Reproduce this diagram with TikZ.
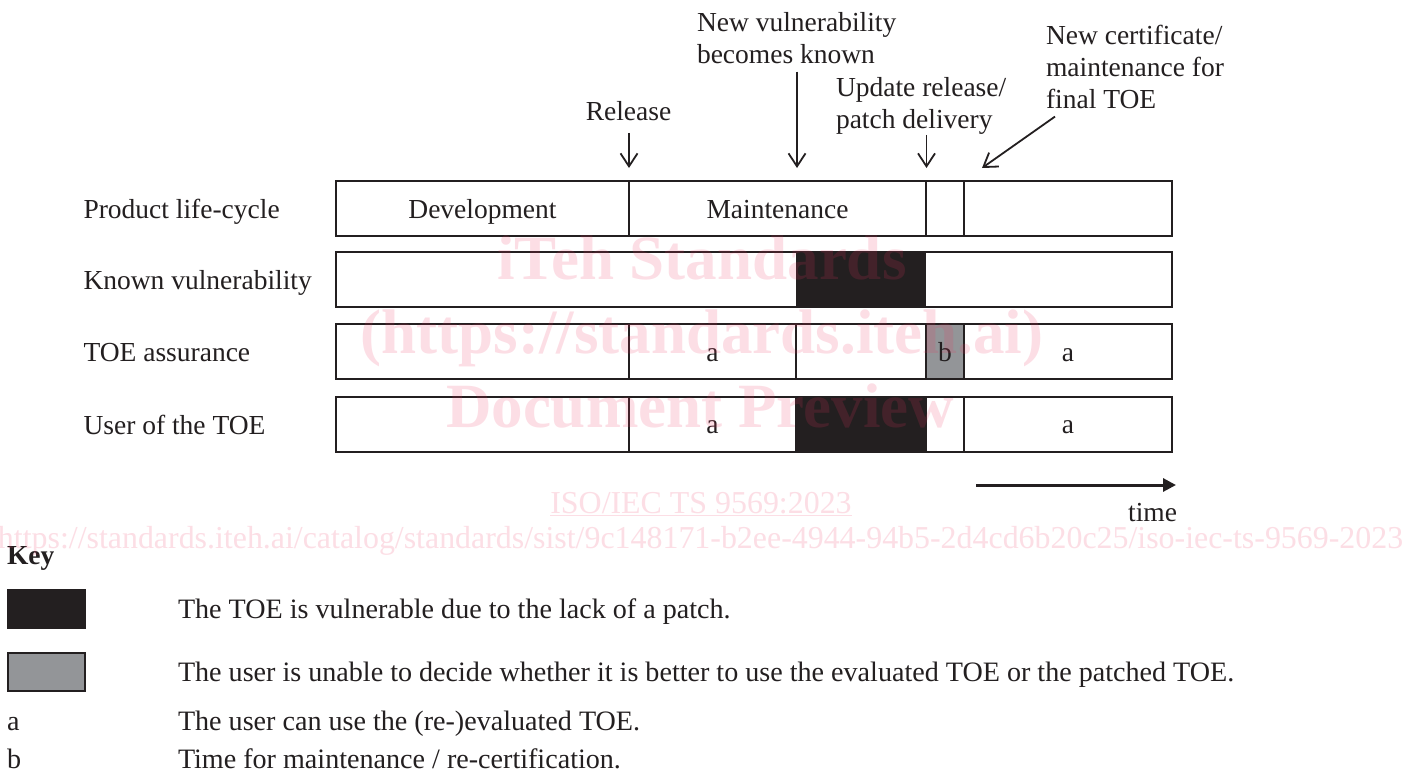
\documentclass[tikz,border=0pt]{standalone}
\usepackage{fontspec}
\setmainfont{Liberation Serif}
\usetikzlibrary{arrows.meta,calc}
\definecolor{ink}{HTML}{231F20}
\definecolor{midgray}{HTML}{939598}
\definecolor{wmred}{RGB}{240,50,95}

\begin{document}
\begin{tikzpicture}[x=1pt,y=-1pt,
  every node/.style={inner sep=0pt, outer sep=0pt},
  txt/.style={font=\fontsize{27.5pt}{31.7pt}\selectfont, text=ink},
  keytxt/.style={font=\fontsize{28.1pt}{32pt}\selectfont, text=ink},
  cell/.style={txt, draw=ink, line width=2pt, minimum height=55pt, fill=white,
               text height=25pt, text depth=6pt},
  blk/.style={fill=ink, minimum height=55pt},
  ptr/.style={draw=ink, line width=1.8pt, -{Straight Barb[length=13pt,width=17pt]}},
  wmark/.style={text=wmred, opacity=0.16, font=\fontsize{63pt}{70pt}\selectfont\bfseries},
  wsmall/.style={text=wmred, opacity=0.16, font=\fontsize{31.9pt}{36pt}\selectfont},
]
\useasboundingbox[fill=white] (0,0) rectangle (1421,776);

% row headings
\node[txt, anchor=base west] (l1) at (83.5,218.5) {Product life-cycle};
\node[txt, anchor=base west] (l2) at (83.5,289.5) {Known vulnerability};
\node[txt, anchor=base west] (l3) at (83.5,361.5) {TOE assurance};
\node[txt, anchor=base west] (l4) at (83.5,434) {User of the TOE};

% row 1: product life-cycle
\node[cell, minimum width=293pt] (dev) at (482.5,208.5) {Development};
\node[cell, minimum width=297pt] (mnt) at (777.5,208.5) {Maintenance};
\node[cell, minimum width=38pt]  (upd) at (945,208.5) {};
\node[cell, minimum width=208pt] (fin) at (1068,208.5) {};

% row 2: known vulnerability
\node[cell, minimum width=836pt] (kv) at (754,279.5) {};
\node[blk, minimum width=130pt] (kvb) at (861,279.5) {};

% row 3: TOE assurance
\node[cell, minimum width=293pt] (as1) at (482.5,351.5) {};
\node[cell, minimum width=167pt] (as2) at (712.5,351.5) {a};
\node[cell, minimum width=130pt] (as3) at (861,351.5) {};
\node[cell, minimum width=38pt, fill=midgray] (as4) at (945,351.5) {b};
\node[cell, minimum width=208pt] (as5) at (1068,351.5) {a};

% row 4: user of the TOE
\node[cell, minimum width=293pt] (us1) at (482.5,424) {};
\node[cell, minimum width=167pt] (us2) at (712.5,424) {a};
\node[cell, minimum width=130pt, fill=ink] (us3) at (861,424) {};
\node[cell, minimum width=38pt]  (us4) at (945,424) {};
\node[cell, minimum width=208pt] (us5) at (1068,424) {a};

% events above the time line (base = baseline of the last line)
\node[txt, anchor=base] (rel) at (628.5,120.5) {Release};
\node[txt, anchor=base west, align=left] (nv) at (697,63.3) {New vulnerability\\becomes known};
\node[txt, anchor=base west, align=left] (ur) at (836,128) {Update release/\\patch delivery};
\node[txt, anchor=base west, align=left] (nc) at (1046,108.3) {New certificate/\\maintenance for\\final TOE};

\coordinate (relTip) at (629,168);
\coordinate (nvTip) at (797,168);
\coordinate (urTip) at (926.5,168);
\coordinate (ncTip) at (982,168);

\draw[ptr, shorten <=12pt] (relTip |- rel.south) -- (relTip);
\draw[ptr, shorten <=8pt] (nvTip |- nv.south) -- (nvTip);
\draw[ptr, shorten <=1pt] (urTip |- ur.south) -- (urTip);
\draw[ptr] ($(nc.south west)+(9,8)$) -- (ncTip);

% time axis
\coordinate (tA) at (976,485);
\coordinate (tB) at (1176,485);
\draw[draw=ink, line width=3pt, -{Triangle[length=13pt,width=13pt]}] (tA) -- (tB);
\node[txt, anchor=base east] (tm) at (1177,521) {time};

% key
\node[txt, anchor=base west, font=\fontsize{27.5pt}{31.7pt}\selectfont\bfseries] (key) at (7,564) {Key};
\node[fill=ink, minimum width=79pt, minimum height=40pt] (swB) at (46.5,609) {};
\node[fill=midgray, draw=ink, line width=2pt, minimum width=77pt, minimum height=38pt] (swG) at (46.5,672) {};
\node[keytxt, anchor=base west] (kd1) at (178,618) {The TOE is vulnerable due to the lack of a patch.};
\node[keytxt, anchor=base west] (kd2) at (178,681) {The user is unable to decide whether it is better to use the evaluated TOE or the patched TOE.};
\node[keytxt, anchor=base west] (ka) at (7,730) {a};
\node[keytxt, anchor=base west] (kd3) at (178,730) {The user can use the (re-)evaluated TOE.};
\node[keytxt, anchor=base west] (kb) at (7,768) {b};
\node[keytxt, anchor=base west] (kd4) at (178,768) {Time for maintenance / re-certification.};

% preview stamp
\node[wmark, anchor=base] (w1) at (702,279) {iTeh Standards};
\node[wmark, anchor=base] (w2) at (702,353) {(https://standards.iteh.ai)};
\node[wmark, anchor=base] (w3) at (700,427) {Document Preview};
\node[wsmall, anchor=base] (w4) at (701,513) {\underline{ISO/IEC TS 9569:2023}};
\node[wsmall, anchor=base west] (w5) at (-2,548) {https://standards.iteh.ai/catalog/standards/sist/9c148171-b2ee-4944-94b5-2d4cd6b20c25/iso-iec-ts-9569-2023};
\end{tikzpicture}
\end{document}
